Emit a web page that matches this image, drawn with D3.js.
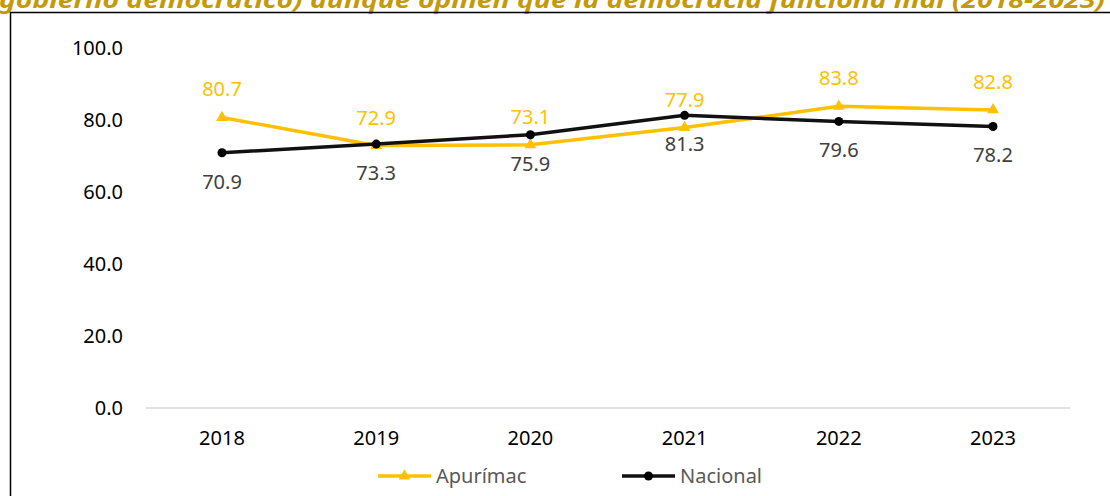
<!DOCTYPE html>
<html lang="es">
<head>
  <meta charset="UTF-8">
  <title>Apurímac vs Nacional</title>
  <script src="https://d3js.org/d3.v7.min.js"></script>
  <style>
    body { margin: 0; background: #fff; }
    svg text { font-family: "Noto Sans", "Liberation Sans", sans-serif; }
  </style>
</head>
<body>
  <div id="chart"></div>
  <script>
    // chart data
    const years = ["2018", "2019", "2020", "2021", "2022", "2023"];
    const apurimac = [80.7, 72.9, 73.1, 77.9, 83.8, 82.8];
    const nacional = [70.9, 73.3, 75.9, 81.3, 79.6, 78.2];
    const yTicks = [0, 20, 40, 60, 80, 100];
    const titleText = "gobierno democrático) aunque opinen que la democracia funciona mal (2018-2023)";

    const W = 1110, H = 496;
    const svg = d3.select("#chart").append("svg")
      .attr("width", W).attr("height", H);

    // title (cut off at the top in the original)
    svg.append("text")
      .attr("x", -1).attr("y", 8)
      .attr("font-size", 24)
      .attr("font-weight", "bold")
      .attr("font-style", "italic")
      .attr("fill", "#C49A0C")
      .attr("textLength", 1106)
      .attr("lengthAdjust", "spacingAndGlyphs")
      .text(titleText);

    // frame
    svg.append("rect")
      .attr("x", 10.5).attr("y", 12.5)
      .attr("width", W + 20).attr("height", H + 20)
      .attr("fill", "none").attr("stroke", "#000").attr("stroke-width", 1.5);

    const x = d3.scalePoint().domain(years).range([222, 993]);
    const y = d3.scaleLinear().domain([0, 100]).range([408, 48]);

    // baseline
    svg.append("line")
      .attr("x1", 146).attr("x2", 1070)
      .attr("y1", y(0)).attr("y2", y(0))
      .attr("stroke", "#D9D9D9").attr("stroke-width", 1.5);

    // y axis labels
    svg.append("g").selectAll("text").data(yTicks).join("text")
      .attr("x", 123).attr("y", d => y(d))
      .attr("dy", "0.35em")
      .attr("text-anchor", "end")
      .attr("font-size", 20)
      .attr("fill", "#000")
      .text(d => d.toFixed(1));

    // x axis labels
    svg.append("g").selectAll("text").data(years).join("text")
      .attr("x", d => x(d)).attr("y", 438)
      .attr("dy", "0.35em")
      .attr("text-anchor", "middle")
      .attr("font-size", 20)
      .attr("fill", "#000")
      .text(d => d);

    const line = d3.line().x((d, i) => x(years[i])).y(d => y(d));
    const tri = d3.symbol().type(d3.symbolTriangle).size(60);

    // Apurímac
    svg.append("path").datum(apurimac)
      .attr("d", line).attr("fill", "none")
      .attr("stroke", "#FFC000").attr("stroke-width", 3.5);
    svg.append("g").selectAll("path").data(apurimac).join("path")
      .attr("d", tri)
      .attr("transform", (d, i) => `translate(${x(years[i])},${y(d)})`)
      .attr("fill", "#FFC000");
    svg.append("g").selectAll("text").data(apurimac).join("text")
      .attr("x", (d, i) => x(years[i])).attr("y", d => y(d) - 28)
      .attr("dy", "0.35em")
      .attr("text-anchor", "middle")
      .attr("font-size", 20)
      .attr("fill", "#FFC000")
      .text(d => d.toFixed(1));

    // Nacional
    svg.append("path").datum(nacional)
      .attr("d", line).attr("fill", "none")
      .attr("stroke", "#111").attr("stroke-width", 3.5);
    svg.append("g").selectAll("circle").data(nacional).join("circle")
      .attr("cx", (d, i) => x(years[i])).attr("cy", d => y(d))
      .attr("r", 4.5).attr("fill", "#000");
    svg.append("g").selectAll("text").data(nacional).join("text")
      .attr("x", (d, i) => x(years[i])).attr("y", d => y(d) + 29)
      .attr("dy", "0.35em")
      .attr("text-anchor", "middle")
      .attr("font-size", 20)
      .attr("fill", "#404040")
      .text(d => d.toFixed(1));

    // legend
    const legend = [
      { name: "Apurímac", color: "#FFC000", x: 378, marker: "tri" },
      { name: "Nacional", color: "#111", x: 622, marker: "circle" }
    ];
    const lg = svg.append("g").selectAll("g").data(legend).join("g")
      .attr("transform", d => `translate(${d.x},476)`);
    lg.append("line")
      .attr("x1", 0).attr("x2", 53)
      .attr("stroke", d => d.color).attr("stroke-width", 3.5);
    lg.filter(d => d.marker === "tri").append("path")
      .attr("d", tri).attr("transform", "translate(26.5,0)")
      .attr("fill", d => d.color);
    lg.filter(d => d.marker === "circle").append("circle")
      .attr("cx", 26.5).attr("r", 4.5).attr("fill", "#000");
    lg.append("text")
      .attr("x", 58).attr("dy", "0.35em")
      .attr("font-size", 20)
      .attr("fill", "#595959")
      .text(d => d.name);
  </script>
</body>
</html>
